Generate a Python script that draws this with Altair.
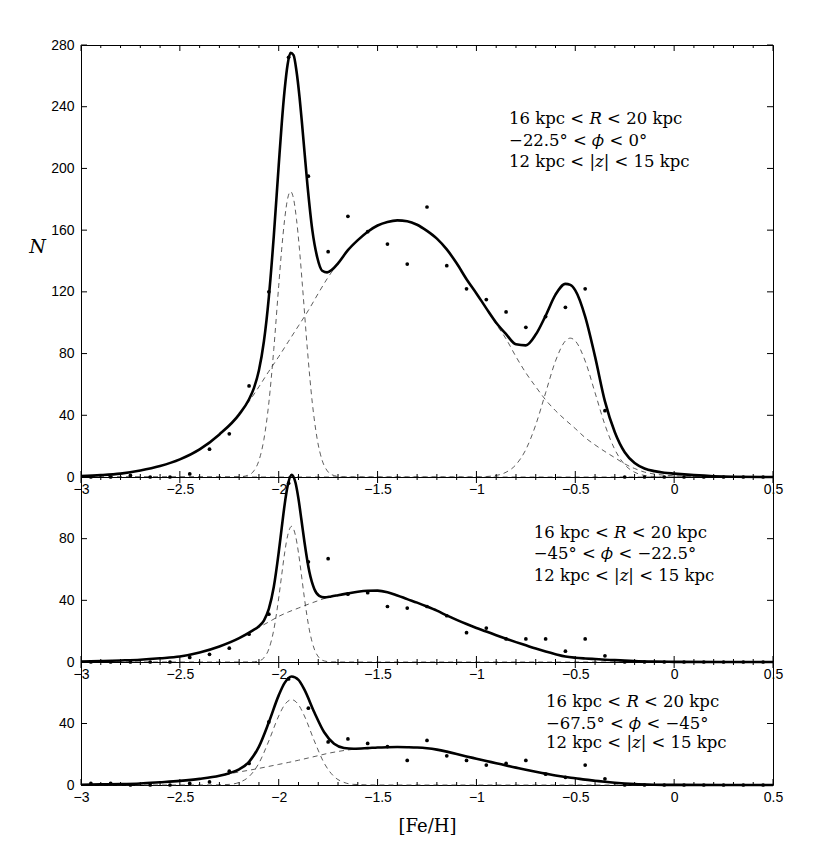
import altair as alt
import pandas as pd

# ---------------- data ----------------
BINS = [-2.95, -2.85, -2.75, -2.65, -2.55, -2.45, -2.35, -2.25, -2.15, -2.05,
        -1.95, -1.85, -1.75, -1.65, -1.55, -1.45, -1.35, -1.25, -1.15, -1.05,
        -0.95, -0.85, -0.75, -0.65, -0.55, -0.45, -0.35, -0.25, -0.15, -0.05,
        0.05, 0.15, 0.25, 0.35, 0.45]

TOP_COUNTS = [0, 0, 1, 0, 0, 2, 18, 28, 59, 120,
              272, 195, 146, 169, 159, 151, 138, 175, 137, 122,
              115, 107, 97, 104, 110, 122, 43, 0, 0, 0,
              0, 0, 0, 0, 0]
MID_COUNTS = [0, 0, 0, 0, 0, 3, 5, 9, 18, 31,
              116, 65, 67, 44, 45, 36, 35, 36, 30, 19,
              22, 15, 15, 15, 7, 15, 4, 0, 0, 0,
              0, 0, 0, 0, 0]
BOT_COUNTS = [1, 1, 0, 0, 0, 1, 2, 9, 14, 41,
              69, 50, 28, 30, 27, 25, 16, 29, 19, 16,
              13, 14, 16, 7, 5, 13, 4, 0, 0, 0,
              0, 0, 0, 0, 0]

# common grid of the broad (dashed) components
BROAD_X = [-3.0, -2.9, -2.8, -2.7, -2.6, -2.5, -2.4, -2.3, -2.2,
           -2.15, -2.1, -2.05, -2.0, -1.95, -1.9, -1.85, -1.8, -1.75, -1.7,
           -1.65, -1.6, -1.55, -1.5, -1.45, -1.4, -1.35, -1.3, -1.25, -1.2,
           -1.15, -1.1, -1.05, -1.0, -0.95, -0.9, -0.85, -0.8, -0.75, -0.7,
           -0.65, -0.6, -0.55, -0.5, -0.45, -0.4, -0.35, -0.3, -0.25, -0.2,
           -0.15, -0.1, -0.05, 0.0,
           0.1, 0.2, 0.3, 0.5]

# ---- top panel curves ----
TOP_SOLID_X = [-3.0, -2.9, -2.8, -2.7, -2.6, -2.5, -2.4, -2.3, -2.2,
               -2.15, -2.125, -2.1, -2.075, -2.05, -2.025, -2.0,
               -1.985, -1.97, -1.955, -1.94, -1.925, -1.91, -1.895, -1.88,
               -1.855, -1.83, -1.805, -1.78, -1.755, -1.73,
               -1.7, -1.65, -1.6, -1.55, -1.5, -1.45, -1.4, -1.35, -1.3, -1.25,
               -1.2, -1.15, -1.1, -1.05, -1.0,
               -0.95, -0.9, -0.85, -0.8, -0.75, -0.7, -0.65, -0.6, -0.55, -0.525, -0.5,
               -0.45, -0.4, -0.35, -0.3, -0.25, -0.2, -0.15, -0.1, -0.05, 0.0,
               0.1, 0.2, 0.3, 0.5]
TOP_SOLID_Y = [0.6, 1.2, 2.2, 4.2, 7.1, 11.4, 17.9, 27.6, 40.6,
               50.4, 57.8, 69.2, 87.8, 116.5, 155.9, 202,
               228.6, 251, 267.4, 275, 273.4, 263, 246.6, 226,
               189.7, 160, 142.3, 133.7, 132.6, 134.4,
               138.5, 147, 153.5, 159, 163, 165.3, 166.3, 165.8, 163.5, 159.5,
               154.5, 147.5, 138.5, 128.2, 119,
               109.3, 100, 92.6, 86, 85.3, 92.3, 104.6, 118.2, 125.2, 124.5, 121,
               104, 78, 49, 29, 16, 9, 5.5, 3.8, 2.8, 2.2,
               1.2, 0.5, 0.15, 0]
TOP_NARROW_X = [-3.0, -2.3, -2.2, -2.15, -2.125, -2.1, -2.075, -2.05, -2.025, -2.0,
                -1.985, -1.97, -1.955, -1.94, -1.925, -1.91, -1.895, -1.88,
                -1.855, -1.83, -1.805, -1.78, -1.755, -1.73, -1.68, -1.6, 0.5]
TOP_NARROW_Y = [0, 0, 0.1, 1.4, 4.1, 10.7, 24.3, 48, 82.7, 124,
                147.6, 167, 180.4, 185, 180.4, 167, 147.6, 124,
                82.7, 48, 24.3, 10.7, 4.1, 1.4, 0.1, 0, 0]
TOP_THIRD_X = [-3.0, -1.0, -0.95, -0.9, -0.85, -0.8, -0.75, -0.7, -0.65, -0.6,
               -0.55, -0.525, -0.5, -0.45, -0.4, -0.35, -0.3, -0.25, -0.2, -0.15,
               -0.1, -0.05, 0.5]
TOP_THIRD_Y = [0, 0, 0.3, 1.0, 3.1, 8.0, 17.8, 33.8, 54.6, 75.2,
               88.2, 90, 88.2, 75.2, 54.6, 33.8, 17.8, 8.0, 3.1, 1.0,
               0.3, 0, 0]
TOP_BROAD_Y = [0.6, 1.2, 2.2, 4.2, 7.1, 11.4, 17.9, 27.6, 40.5,
               49, 58.5, 68.5, 78, 88, 98, 108, 119, 129.5, 138.5,
               147, 153.5, 159, 163, 165.3, 166.3, 165.8, 163.5, 159.5, 154.5,
               147.5, 138.5, 128.2, 119, 109, 99, 89.5, 78, 67.5, 58.5,
               50, 43, 37, 31.4, 25.5, 20.8, 16.5, 12.5, 8.5, 5.5,
               3.2, 1.9, 1.2, 0.8,
               0.35, 0.1, 0, 0]

# ---- middle panel curves ----
MID_SOLID_X = [-3.0, -2.9, -2.8, -2.7, -2.6, -2.5, -2.4, -2.3, -2.2,
               -2.135, -2.1, -2.075, -2.05, -2.025, -2.0,
               -1.985, -1.97, -1.955, -1.935, -1.915, -1.9, -1.885, -1.87,
               -1.845, -1.82, -1.795, -1.77, -1.735,
               -1.7, -1.65, -1.6, -1.55, -1.5, -1.45, -1.4, -1.35, -1.3, -1.25,
               -1.2, -1.15, -1.1, -1.05, -1.0,
               -0.95, -0.9, -0.85, -0.8, -0.75, -0.7, -0.65, -0.6, -0.55, -0.5,
               -0.45, -0.4, -0.35, -0.3, -0.25, -0.2,
               -0.1, 0.0, 0.5]
MID_SOLID_Y = [0.3, 0.6, 1.0, 1.5, 2.4, 3.6, 6.2, 10.1, 15.5,
               20.2, 23.2, 26.9, 34.4, 48.6, 71.1,
               86.8, 102.1, 114.1, 121.4, 116.3, 105.8, 92.1, 78,
               58.5, 47.4, 42.9, 41.9, 42.5,
               43.3, 44.5, 45.6, 46.2, 46.3, 45.3, 43.2, 40.8, 38.5, 36,
               33.3, 30.2, 27.3, 24.6, 22.1,
               19.8, 17.4, 15.1, 12.9, 10.8, 8.7, 6.8, 5.1, 3.6, 2.8,
               2.3, 1.9, 1.5, 1.2, 0.9, 0.6,
               0.25, 0.1, 0]
MID_NARROW_X = [-3.0, -2.2, -2.135, -2.1, -2.075, -2.05, -2.025, -2.0, -1.985, -1.97,
                -1.955, -1.935, -1.915, -1.9, -1.885, -1.87, -1.845, -1.82, -1.795,
                -1.77, -1.735, -1.67, 0.5]
MID_NARROW_Y = [0, 0, 0.07, 0.7, 2.7, 8.4, 20.8, 41.5, 56.4, 70.8,
                81.9, 88, 81.9, 70.8, 56.4, 41.5, 20.8, 8.4, 2.7,
                0.7, 0.07, 0, 0]
MID_BROAD_Y = [0.3, 0.6, 1.0, 1.5, 2.4, 3.6, 6.2, 10.1, 15.5,
               19, 22.5, 26, 29.6, 32.5, 35, 37.5, 39.8, 42, 43.3,
               44.5, 45.6, 46.2, 46.3, 45.3, 43.2, 40.8, 38.5, 36, 33.3,
               30.2, 27.3, 24.6, 22.1, 19.8, 17.4, 15.1, 12.9, 10.8, 8.7,
               6.8, 5.1, 3.6, 2.8, 2.3, 1.9, 1.5, 1.2, 0.9, 0.6,
               0.4, 0.25, 0.15, 0.1,
               0.05, 0, 0, 0]

# ---- bottom panel curves ----
BOT_SOLID_X = [-3.0, -2.9, -2.8, -2.7, -2.6, -2.5, -2.4, -2.3,
               -2.25, -2.2, -2.15, -2.1, -2.05, -2.0,
               -1.97, -1.935, -1.9, -1.87, -1.82, -1.77, -1.72, -1.67, -1.62,
               -1.55, -1.5, -1.45, -1.4, -1.35, -1.3, -1.25, -1.2, -1.15, -1.1,
               -1.05, -1.0, -0.95, -0.9, -0.85, -0.8, -0.75, -0.7, -0.65, -0.6,
               -0.55, -0.5, -0.45, -0.4, -0.35, -0.3, -0.25, -0.2,
               -0.1, 0.0, 0.5]
BOT_SOLID_Y = [0.2, 0.4, 0.6, 1.0, 1.8, 2.7, 4.0, 6.0,
               7.7, 10.2, 15.1, 25.0, 40.8, 58.3,
               66.4, 70.6, 68.4, 62.0, 47.3, 34.3, 26.8, 24.1, 23.6,
               24.0, 24.4, 24.6, 24.7, 24.6, 24.4, 23.9, 23.0, 21.7, 20.2,
               18.6, 17.1, 15.6, 14.2, 12.7, 11.3, 9.9, 8.6, 7.4, 6.2,
               5.2, 4.4, 3.5, 2.8, 2.1, 1.5, 1.0, 0.6,
               0.2, 0.05, 0]
BOT_NARROW_X = [-3.0, -2.35, -2.25, -2.2, -2.15, -2.1, -2.05, -2.0, -1.97, -1.935,
                -1.9, -1.87, -1.82, -1.77, -1.72, -1.67, -1.62, -1.5, 0.5]
BOT_NARROW_Y = [0, 0, 0.4, 1.7, 5.5, 14.2, 28.7, 44.9, 52.2, 55.5,
                52.2, 44.9, 28.7, 14.2, 5.5, 1.7, 0.4, 0, 0]
BOT_BROAD_Y = [0.2, 0.4, 0.6, 1.0, 1.8, 2.7, 4.0, 6.0, 8.5,
               9.6, 10.8, 12.1, 13.4, 14.7, 16.1, 17.6, 19.1, 20.6, 21.8,
               22.8, 23.5, 24.0, 24.4, 24.6, 24.7, 24.6, 24.4, 23.9, 23.0,
               21.7, 20.2, 18.6, 17.1, 15.6, 14.2, 12.7, 11.3, 9.9, 8.6,
               7.4, 6.2, 5.2, 4.4, 3.5, 2.8, 2.1, 1.5, 1.0, 0.6,
               0.4, 0.2, 0.1, 0.05,
               0, 0, 0, 0]

# ticks / labels
X_MAJOR = [-3, -2.5, -2, -1.5, -1, -0.5, 0, 0.5]
X_MINOR = [-2.9, -2.8, -2.7, -2.6, -2.4, -2.3, -2.2, -2.1, -1.9, -1.8, -1.7, -1.6,
           -1.4, -1.3, -1.2, -1.1, -0.9, -0.8, -0.7, -0.6, -0.4, -0.3, -0.2, -0.1,
           0.1, 0.2, 0.3, 0.4]
TOP_YTICKS = [0, 40, 80, 120, 160, 200, 240, 280]
MID_YTICKS = [0, 40, 80]
BOT_YTICKS = [0, 40]

TOP_NOTE = ["16 kpc < \U0001D445 < 20 kpc", "\u221222.5\u00b0 < \U0001D719 < 0\u00b0",
            "12 kpc < |\U0001D467| < 15 kpc"]
MID_NOTE = ["16 kpc < \U0001D445 < 20 kpc", "\u221245\u00b0 < \U0001D719 < \u221222.5\u00b0",
            "12 kpc < |\U0001D467| < 15 kpc"]
BOT_NOTE = ["16 kpc < \U0001D445 < 20 kpc", "\u221267.5\u00b0 < \U0001D719 < \u221245\u00b0",
            "12 kpc < |\U0001D467| < 15 kpc"]
TOP_NOTE_POS = (-0.835, [232, 218, 204])
MID_NOTE_POS = (-0.71, [84, 70, 56])
BOT_NOTE_POS = (-0.648, [54, 40, 27])

W = 692
TICK_FONT = "Liberation Sans"
SERIF = "DejaVu Serif"


def curve_df(xs, ys):
    return pd.DataFrame({"x": [a for a, _ in zip(xs, ys)], "y": [b for _, b in zip(xs, ys)]})


def panel(h, ydom, yticks, counts, solid, comps, note, note_pos, xtitle=None, ytitle=None):
    xs = alt.Scale(domain=[-3, 0.5], nice=False, zero=False)
    ys = alt.Scale(domain=ydom, nice=False, zero=False)
    xkw = dict(values=X_MAJOR, format="~g", ticks=False, domain=False, grid=False,
               labelFont=TICK_FONT, labelFontSize=14, labelColor="black",
               labelPadding=5, labelFlush=False, labelOverlap=False)
    if xtitle:
        xaxis = alt.Axis(title=xtitle, titleFont=SERIF, titleFontSize=18,
                         titleFontWeight="normal", titleColor="black",
                         titleY=41, titleBaseline="middle", **xkw)
    else:
        xaxis = alt.Axis(title=None, **xkw)
    ykw = dict(values=yticks, format="d", ticks=False, domain=False, grid=False,
               labelFont=TICK_FONT, labelFontSize=14, labelColor="black",
               labelPadding=7, labelFlush=False, labelOverlap=False)
    if ytitle:
        yaxis = alt.Axis(title=ytitle, titleFont=SERIF, titleFontSize=19,
                         titleFontStyle="italic", titleFontWeight="normal",
                         titleColor="black", titleAngle=0, titleX=-44, titleY=201,
                         titleAlign="center", titleBaseline="middle", **ykw)
    else:
        yaxis = alt.Axis(title=None, **ykw)
    X = alt.X("x:Q", scale=xs, axis=xaxis)
    Y = alt.Y("y:Q", scale=ys, axis=yaxis)

    comp_frames = []
    for i, (cx, cy) in enumerate(comps):
        d = curve_df(cx, cy)
        d["c"] = f"c{i}"
        comp_frames.append(d)
    comp_df = pd.concat(comp_frames, ignore_index=True)

    dashed = alt.Chart(comp_df).mark_line(
        strokeDash=[5, 4], strokeWidth=0.8, color="#333333", interpolate="monotone"
    ).encode(x=X, y=Y, detail="c:N")
    sol = alt.Chart(curve_df(*solid)).mark_line(
        color="black", strokeWidth=2.6, interpolate="monotone"
    ).encode(x=X, y=Y)
    dots = alt.Chart(pd.DataFrame({"x": BINS, "y": counts})).mark_circle(
        size=14, color="black", opacity=1
    ).encode(x=X, y=Y)

    maj = pd.DataFrame({"x": X_MAJOR})
    mnr = pd.DataFrame({"x": X_MINOR})
    ytk = pd.DataFrame({"y": yticks})
    rk = dict(color="black", strokeWidth=1)
    t1 = alt.Chart(maj).mark_rule(**rk).encode(x=X, y=alt.value(0), y2=alt.value(6))
    t2 = alt.Chart(maj).mark_rule(**rk).encode(x=X, y=alt.value(h), y2=alt.value(h - 6))
    t3 = alt.Chart(mnr).mark_rule(**rk).encode(x=X, y=alt.value(0), y2=alt.value(3))
    t4 = alt.Chart(mnr).mark_rule(**rk).encode(x=X, y=alt.value(h), y2=alt.value(h - 3))
    t5 = alt.Chart(ytk).mark_rule(**rk).encode(y=Y, x=alt.value(0), x2=alt.value(6))
    t6 = alt.Chart(ytk).mark_rule(**rk).encode(y=Y, x=alt.value(W), x2=alt.value(W - 6))

    nx, nys = note_pos
    notes = alt.Chart(pd.DataFrame({"x": [nx] * len(note), "y": nys, "t": note})).mark_text(
        align="left", baseline="middle", font=SERIF, fontSize=16.5, color="black"
    ).encode(x=X, y=Y, text="t:N")

    return alt.layer(dashed, sol, dots, t1, t2, t3, t4, t5, t6, notes).properties(width=W, height=h)


top = panel(432, [0, 280], TOP_YTICKS, TOP_COUNTS, (TOP_SOLID_X, TOP_SOLID_Y),
            [(BROAD_X, TOP_BROAD_Y), (TOP_NARROW_X, TOP_NARROW_Y), (TOP_THIRD_X, TOP_THIRD_Y)],
            TOP_NOTE, TOP_NOTE_POS, ytitle="N")
mid = panel(185, [0, 120], MID_YTICKS, MID_COUNTS, (MID_SOLID_X, MID_SOLID_Y),
            [(BROAD_X, MID_BROAD_Y), (MID_NARROW_X, MID_NARROW_Y)],
            MID_NOTE, MID_NOTE_POS)
bot = panel(123, [0, 80], BOT_YTICKS, BOT_COUNTS, (BOT_SOLID_X, BOT_SOLID_Y),
            [(BROAD_X, BOT_BROAD_Y), (BOT_NARROW_X, BOT_NARROW_Y)],
            BOT_NOTE, BOT_NOTE_POS, xtitle="[Fe/H]")

chart = alt.vconcat(top, mid, bot, spacing=0, bounds="flush").properties(
    padding={"left": 20, "top": 29, "right": 10, "bottom": 10},
    background="white",
).configure_view(stroke="black", strokeWidth=1)

chart.save("out.html", embed_options={"renderer": "svg", "actions": False})
